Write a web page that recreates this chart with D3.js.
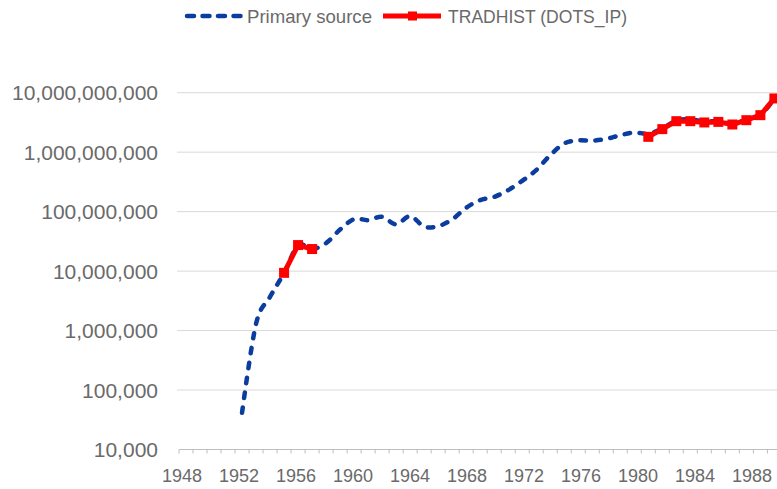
<!DOCTYPE html>
<html>
<head>
<meta charset="utf-8">
<script src="https://cdn.jsdelivr.net/npm/d3@7"></script>
<style>
  html, body { margin: 0; padding: 0; background: #fff; overflow: hidden; }
  svg text { font-family: "Liberation Sans", Arial, sans-serif; fill: #6a6a6a; }
</style>
</head>
<body>
<div id="chart"></div>
<script>
(function () {

    // categories on the x axis (one per year)
    var years = [1948, 1949, 1950, 1951, 1952, 1953, 1954, 1955, 1956, 1957,
                 1958, 1959, 1960, 1961, 1962, 1963, 1964, 1965, 1966, 1967,
                 1968, 1969, 1970, 1971, 1972, 1973, 1974, 1975, 1976, 1977,
                 1978, 1979, 1980, 1981, 1982, 1983, 1984, 1985, 1986, 1987,
                 1988, 1989, 1990];
    var xTickLabels = [1948, 1952, 1956, 1960, 1964, 1968, 1972, 1976, 1980, 1984, 1988];
    var yTickValues = [1e4, 1e5, 1e6, 1e7, 1e8, 1e9, 1e10];

    // Primary source series
    var primaryYears = [1952, 1953, 1954, 1955, 1956, 1957, 1958, 1959, 1960, 1961,
                        1962, 1963, 1964, 1965, 1966, 1967, 1968, 1969, 1970, 1971,
                        1972, 1973, 1974, 1975, 1976, 1977, 1978, 1979, 1980, 1981,
                        1982, 1983, 1984, 1985, 1986, 1987, 1988, 1989, 1990];
    var primaryValues = [41500, 1300000, 3700000, 9300000, 27000000, 23500000, 29500000, 50000000, 75000000, 72000000,
                         82000000, 61000000, 84000000, 56000000, 57000000, 74000000, 116000000, 156000000, 177000000, 230000000,
                         330000000, 500000000, 890000000, 1400000000, 1580000000, 1560000000, 1670000000, 1930000000, 2140000000, 2050000000,
                         2500000000, 3400000000, 3550000000, 3300000000, 3300000000, 3000000000, 3500000000, 4200000000, 8000000000];

    // TRADHIST (DOTS_IP) series
    var tradYears = [1955, 1956, 1957, 1981, 1982, 1983, 1984, 1985, 1986, 1987, 1988, 1989, 1990];
    var tradValues = [9350000, 27400000, 23500000, 1810000000, 2440000000, 3320000000, 3320000000, 3160000000,
                      3230000000, 2920000000, 3450000000, 4190000000, 8000000000];

    var seriesNames = ["Primary source", "TRADHIST (DOTS_IP)"];
    var colors = ["#0b3d9e", "#ff0000"];

    var width = 777, height = 489;
    var plot = { left: 179, right: 781.4, top: 92.7, bottom: 449.5 };

    var svg = d3.select("#chart").append("svg")
        .attr("width", width)
        .attr("height", height);

    var x = d3.scaleBand()
        .domain(years)
        .range([plot.left, plot.right])
        .padding(0);
    var bw = x.bandwidth();
    function cx(yr) { return x(yr) + bw / 2; }

    // label positions along the axis (labels sit a little wider apart than the points)
    var xl = d3.scaleLinear()
        .domain([1948, 1988])
        .range([182, 752]);

    var y = d3.scaleLog()
        .domain([1e4, 1e10])
        .range([plot.bottom, plot.top]);

    //gridlines
    svg.append("g").selectAll("line")
        .data(yTickValues.slice(1))
        .enter().append("line")
        .attr("x1", plot.left - 2).attr("x2", width)
        .attr("y1", function (d) { return y(d); })
        .attr("y2", function (d) { return y(d); })
        .attr("stroke", "#d9d9d9")
        .attr("stroke-width", 1);

    //y labels
    var fmt = d3.format(",");
    svg.append("g").selectAll("text")
        .data(yTickValues)
        .enter().append("text")
        .attr("x", 158)
        .attr("y", function (d) { return y(d); })
        .attr("dy", "0.36em")
        .attr("text-anchor", "end")
        .style("font-size", "21px")
        .text(function (d) { return fmt(d); });

    //x axis line + ticks at category boundaries
    svg.append("line")
        .attr("x1", plot.left).attr("x2", width)
        .attr("y1", plot.bottom).attr("y2", plot.bottom)
        .attr("stroke", "#bfbfbf");
    svg.append("g").selectAll("line")
        .data(years)
        .enter().append("line")
        .attr("x1", function (d) { return x(d); })
        .attr("x2", function (d) { return x(d); })
        .attr("y1", plot.bottom).attr("y2", plot.bottom + 4)
        .attr("stroke", "#bfbfbf");

    svg.append("g").selectAll("text")
        .data(xTickLabels)
        .enter().append("text")
        .attr("x", function (d) { return xl(d); })
        .attr("y", 482)
        .attr("text-anchor", "middle")
        .style("font-size", "18px")
        .text(function (d) { return d; });

    //primary source - smoothed dashed line
    var primary = primaryYears.map(function (yr, i) { return { year: yr, value: primaryValues[i] }; });
    var smooth = d3.line()
        .x(function (d) { return cx(d.year); })
        .y(function (d) { return y(d.value); })
        .curve(d3.curveCardinal.tension(0));

    svg.append("path")
        .datum(primary)
        .attr("d", smooth)
        .attr("fill", "none")
        .attr("stroke", colors[0])
        .attr("stroke-width", 4.5)
        .attr("stroke-linecap", "round")
        .attr("stroke-dasharray", "5.5,9.5");

    //tradhist - straight segments broken where years are missing
    var trad = tradYears.map(function (yr, i) { return { year: yr, value: tradValues[i] }; });
    var segments = [];
    trad.forEach(function (d, i) {
        if (i === 0 || d.year - trad[i - 1].year > 1) segments.push([]);
        segments[segments.length - 1].push(d);
    });
    var straight = d3.line()
        .x(function (d) { return cx(d.year); })
        .y(function (d) { return y(d.value); });

    svg.append("g").selectAll("path")
        .data(segments)
        .enter().append("path")
        .attr("d", straight)
        .attr("fill", "none")
        .attr("stroke", colors[1])
        .attr("stroke-width", 5)
        .attr("stroke-linejoin", "round");

    var ms = 10;
    svg.append("g").selectAll("rect")
        .data(trad)
        .enter().append("rect")
        .attr("x", function (d) { return cx(d.year) - ms / 2; })
        .attr("y", function (d) { return y(d.value) - ms / 2; })
        .attr("width", ms).attr("height", ms)
        .attr("fill", colors[1]);

    //legend
    var legend = svg.append("g");
    legend.append("line")
        .attr("x1", 187).attr("x2", 242)
        .attr("y1", 16).attr("y2", 16)
        .attr("stroke", colors[0])
        .attr("stroke-width", 4.5)
        .attr("stroke-linecap", "round")
        .attr("stroke-dasharray", "7,8.5");
    legend.append("text")
        .attr("x", 247).attr("y", 22.5)
        .style("font-size", "18.5px")
        .attr("textLength", 125)
        .attr("lengthAdjust", "spacingAndGlyphs")
        .text(seriesNames[0]);

    legend.append("line")
        .attr("x1", 383).attr("x2", 441)
        .attr("y1", 16).attr("y2", 16)
        .attr("stroke", colors[1])
        .attr("stroke-width", 5);
    legend.append("rect")
        .attr("x", 408).attr("y", 11.5)
        .attr("width", 9).attr("height", 9)
        .attr("fill", colors[1]);
    legend.append("text")
        .attr("x", 448).attr("y", 22.5)
        .style("font-size", "18.5px")
        .attr("textLength", 179)
        .attr("lengthAdjust", "spacingAndGlyphs")
        .text(seriesNames[1]);

})();
</script>
</body>
</html>
